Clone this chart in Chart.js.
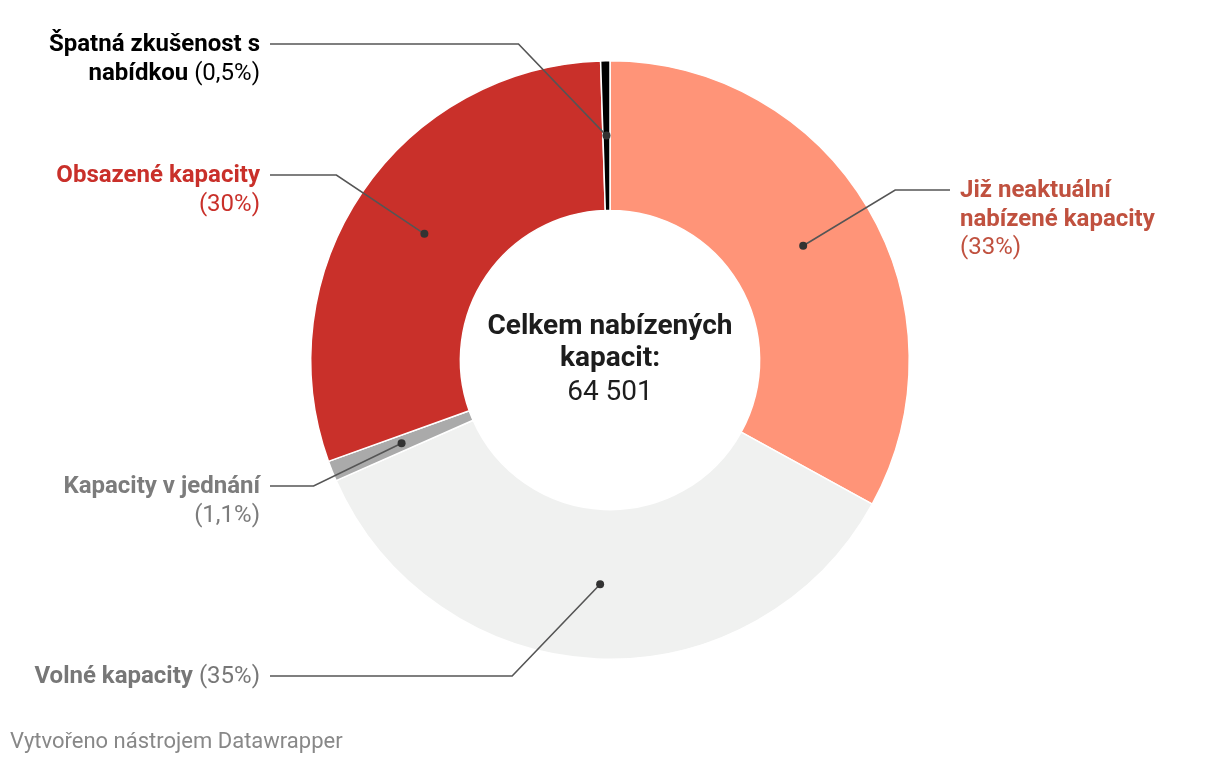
<!DOCTYPE html>
<html lang="cs">
<head>
<meta charset="UTF-8">
<title>Nabízené kapacity</title>
<style>
  body { margin: 0; background: #fff; }
  #chart { display: block; }
</style>
</head>
<body>
<canvas id="chart" width="1220" height="766"></canvas>

<script src="https://cdn.jsdelivr.net/npm/chart.js"></script>
<script>
// data (clockwise from the top)
const categories = ['Již neaktuální nabízené kapacity', 'Volné kapacity', 'Kapacity v jednání', 'Obsazené kapacity', 'Špatná zkušenost s nabídkou'];
const shares = [33, 35.4, 1.1, 30, 0.5];
const shareLabels = ['(33%)', '(35%)', '(1,1%)', '(30%)', '(0,5%)'];
const sliceColors = ['#ff9478', '#f0f1f0', '#aaaaaa', '#c9302a', '#000000'];
const labelColors = ['#c0513f', '#777777', '#7c7c7c', '#c9302a', '#000000'];
const total = '64 501';

// where the outside labels sit (first line middle) and on which side
const labelPlaces = [
    { side: 'right', y: 190 },
    { side: 'left', y: 676 },
    { side: 'left', y: 486 },
    { side: 'left', y: 175 },
    { side: 'left', y: 44 }
];

const FONT = 'Roboto, "Noto Sans", sans-serif';
const LABEL_SIZE = '24px ';

function wrapTokens(ctx, tokens, maxWidth) {
    const lines = [[]];
    let width = 0;
    tokens.forEach(tok => {
        ctx.font = (tok.bold ? 'bold ' : '') + LABEL_SIZE + FONT;
        const space = lines[lines.length - 1].length ? ctx.measureText(' ').width : 0;
        const w = ctx.measureText(tok.text).width;
        if (width + space + w > maxWidth && lines[lines.length - 1].length) {
            lines.push([tok]);
            width = w;
        } else {
            lines[lines.length - 1].push(tok);
            width += space + w;
        }
    });
    return lines;
}

function drawLine(ctx, line, x, y, align, color) {
    let widths = [], full = 0;
    line.forEach((tok, i) => {
        ctx.font = (tok.bold ? 'bold ' : '') + LABEL_SIZE + FONT;
        const w = ctx.measureText((i ? ' ' : '') + tok.text).width;
        widths.push(w);
        full += w;
    });
    let cx = align === 'right' ? x - full : x;
    ctx.fillStyle = color;
    ctx.textAlign = 'left';
    ctx.textBaseline = 'middle';
    line.forEach((tok, i) => {
        ctx.font = (tok.bold ? 'bold ' : '') + LABEL_SIZE + FONT;
        ctx.fillText((i ? ' ' : '') + tok.text, cx, y);
        cx += widths[i];
    });
}

const calloutPlugin = {
    id: 'callouts',
    afterDraw(chart) {
        const ctx = chart.ctx;
        const meta = chart.getDatasetMeta(0);
        const lineH = 28.5;
        ctx.save();
        meta.data.forEach((arc, i) => {
            const p = arc.tooltipPosition();
            const place = labelPlaces[i];
            const left = place.side === 'left';
            const elbowX = left ? p.x - 88 : p.x + 92;
            const endX = left ? 270 : 950;

            // leader line
            ctx.strokeStyle = '#555555';
            ctx.lineWidth = 1.6;
            ctx.beginPath();
            ctx.moveTo(p.x, p.y);
            ctx.lineTo(elbowX, place.y);
            ctx.lineTo(endX, place.y);
            ctx.stroke();

            ctx.fillStyle = '#333333';
            ctx.beginPath();
            ctx.arc(p.x, p.y, 4, 0, Math.PI * 2);
            ctx.fill();

            // label text, wrapped like the original
            const tokens = categories[i].split(' ').map(w => ({ text: w, bold: true }));
            tokens.push({ text: shareLabels[i], bold: false });
            const lines = wrapTokens(ctx, tokens, 240);
            const textX = left ? 260 : 960;
            lines.forEach((line, k) => {
                drawLine(ctx, line, textX, place.y + 1 + k * lineH, left ? 'right' : 'left', labelColors[i]);
            });
        });

        // centre text
        const c = meta.data[0];
        ctx.fillStyle = '#1d1d1d';
        ctx.textAlign = 'center';
        ctx.textBaseline = 'middle';
        ctx.font = 'bold 28px ' + FONT;
        ctx.fillText('Celkem nabízených', c.x, 327);
        ctx.fillText('kapacit:', c.x, 359);
        ctx.font = '28px ' + FONT;
        ctx.fillText(total, c.x, 393);

        // footer
        ctx.fillStyle = '#888888';
        ctx.textAlign = 'left';
        ctx.font = '22px ' + FONT;
        ctx.fillText('Vytvořeno nástrojem Datawrapper', 10, 742);
        ctx.restore();
    }
};

new Chart(document.getElementById('chart').getContext('2d'), {
    type: 'doughnut',
    data: {
        labels: categories,
        datasets: [{
            data: shares,
            backgroundColor: sliceColors,
            borderColor: '#ffffff',
            borderWidth: 1.5,
            hoverOffset: 0
        }]
    },
    options: {
        responsive: false,
        animation: false,
        devicePixelRatio: 1,
        cutout: '50%',
        layout: { padding: { top: 60, bottom: 106, left: 310, right: 310 } },
        plugins: {
            legend: { display: false },
            tooltip: { enabled: false }
        }
    },
    plugins: [calloutPlugin]
});
</script>
</body>
</html>
